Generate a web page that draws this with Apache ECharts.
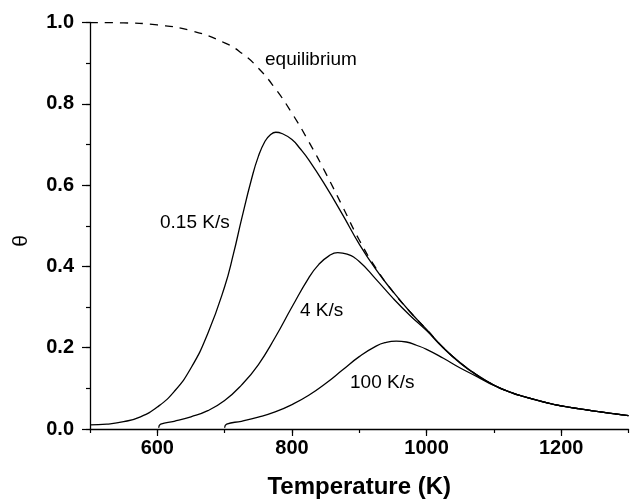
<!DOCTYPE html>
<html>
<head>
<meta charset="utf-8">
<script src="https://cdn.jsdelivr.net/npm/echarts@6/dist/echarts.min.js"></script>
<style>
  html, body { margin: 0; padding: 0; background: #fff; }
  #chart { width: 631px; height: 501px; }
</style>
</head>
<body>
<div id="chart"></div>
<script>
// Coverage theta versus temperature: equilibrium and three heating rates
const xTickLabels = [600, 800, 1000, 1200];
const yTickLabels = [0, 0.2, 0.4, 0.6, 0.8, 1.0];

// equilibrium coverage (dashed)
const eqT = [500, 550, 600, 650, 700, 725, 750, 775, 800, 825, 850, 875, 900, 925, 950, 975, 1000, 1025, 1050, 1075, 1100, 1125, 1150, 1175, 1200, 1250, 1300];
const eqTheta = [1.000, 0.999, 0.994, 0.980, 0.950, 0.925, 0.888, 0.838, 0.777, 0.707, 0.630, 0.548, 0.465, 0.395, 0.338, 0.289, 0.245, 0.200, 0.163, 0.133, 0.108, 0.090, 0.077, 0.066, 0.057, 0.044, 0.033];

// 0.15 K/s
const slowT = [500, 525, 550, 575, 600, 625, 650, 675, 700, 713, 725, 740, 750, 760, 768, 776, 785, 800, 812, 825, 850, 875, 900, 925, 950, 975, 1000, 1025, 1050, 1075, 1100, 1125, 1150, 1175, 1200, 1250, 1300];
const slowTheta = [0.010, 0.012, 0.018, 0.030, 0.054, 0.092, 0.150, 0.235, 0.350, 0.430, 0.515, 0.615, 0.670, 0.708, 0.724, 0.730, 0.727, 0.712, 0.690, 0.662, 0.598, 0.528, 0.455, 0.392, 0.338, 0.289, 0.245, 0.200, 0.163, 0.133, 0.108, 0.090, 0.077, 0.066, 0.057, 0.044, 0.033];

// 4 K/s
const midT = [602, 605, 625, 650, 675, 700, 725, 750, 775, 800, 825, 840, 855, 868, 882, 900, 925, 950, 975, 1000, 1025, 1050, 1075, 1100, 1125, 1150, 1175, 1200, 1250, 1300];
const midTheta = [0.003, 0.012, 0.019, 0.030, 0.045, 0.070, 0.108, 0.158, 0.225, 0.300, 0.372, 0.405, 0.426, 0.434, 0.430, 0.412, 0.368, 0.322, 0.280, 0.242, 0.199, 0.162, 0.132, 0.108, 0.090, 0.077, 0.066, 0.057, 0.044, 0.033];

// 100 K/s
const fastT = [700, 703, 725, 750, 775, 800, 825, 850, 875, 900, 925, 940, 955, 970, 985, 1000, 1025, 1050, 1075, 1100, 1125, 1150, 1175, 1200, 1250, 1300];
const fastTheta = [0.003, 0.012, 0.019, 0.029, 0.042, 0.060, 0.083, 0.112, 0.145, 0.178, 0.204, 0.213, 0.216, 0.214, 0.206, 0.196, 0.174, 0.150, 0.129, 0.107, 0.090, 0.077, 0.066, 0.057, 0.044, 0.033];

const pairs = (xs, ys) => xs.map((x, i) => [x, ys[i]]);

const FONT = '"Liberation Sans", Arial, Helvetica, sans-serif';
const black = '#000';

function curve(name, xs, ys, dashed) {
  return {
    name: name,
    type: 'line',
    data: pairs(xs, ys),
    smooth: 0.5,
    showSymbol: false,
    symbol: 'none',
    animation: false,
    lineStyle: { color: black, width: 1.3, type: dashed ? [8, 7] : 'solid' },
    z: 3
  };
}

const chart = echarts.init(document.getElementById('chart'), null, { renderer: 'canvas' });

chart.setOption({
  backgroundColor: '#fff',
  animation: false,
  grid: { left: 90, right: 2.5, top: 22.5, bottom: 72, containLabel: false, outerBoundsMode: 'none' },
  xAxis: [
    {
      type: 'value', min: 500, max: 1300, interval: 100, position: 'bottom',
      axisLine: { show: true, lineStyle: { color: black, width: 1.3 } },
      axisTick: { show: true, inside: false, length: 4, lineStyle: { color: black, width: 1.2 } },
      axisLabel: {
        customValues: xTickLabels, margin: 9,
        formatter: v => String(v),
        color: black, fontFamily: FONT, fontSize: 20, fontWeight: 'bold'
      },
      splitLine: { show: false },
      name: 'Temperature (K)', nameLocation: 'middle', nameGap: 46,
      nameTextStyle: { color: black, fontFamily: FONT, fontSize: 24, fontWeight: 'bold' }
    },
    {
      type: 'value', min: 500, max: 1300, interval: 100, position: 'bottom', offset: 0,
      axisLine: { show: false },
      axisTick: { show: true, inside: false, length: 7, customValues: xTickLabels, lineStyle: { color: black, width: 1.2 } },
      axisLabel: { show: false },
      splitLine: { show: false }
    }
  ],
  yAxis: [
    {
      type: 'value', min: 0, max: 1, interval: 0.1, position: 'left',
      axisLine: { show: true, lineStyle: { color: black, width: 1.3 } },
      axisTick: { show: true, inside: false, length: 4, lineStyle: { color: black, width: 1.2 } },
      axisLabel: {
        customValues: yTickLabels, margin: 16,
        formatter: v => v.toFixed(1),
        color: black, fontFamily: FONT, fontSize: 20, fontWeight: 'bold'
      },
      splitLine: { show: false }
    },
    {
      type: 'value', min: 0, max: 1, interval: 0.1, position: 'left', offset: 0,
      axisLine: { show: false },
      axisTick: { show: true, inside: false, length: 8, customValues: yTickLabels, lineStyle: { color: black, width: 1.2 } },
      axisLabel: { show: false },
      splitLine: { show: false }
    }
  ],
  series: [
    curve('equilibrium', eqT, eqTheta, true),
    curve('0.15 K/s', slowT, slowTheta, false),
    curve('4 K/s', midT, midTheta, false),
    curve('100 K/s', fastT, fastTheta, false)
  ],
  graphic: [
    { type: 'text', x: 21, y: 241, rotation: Math.PI / 2,
      style: { text: 'θ', font: '21px ' + FONT, fill: black, align: 'center', verticalAlign: 'middle', textAlign: 'center', textVerticalAlign: 'middle' } },
    { type: 'text', left: 265, top: 50, style: { text: 'equilibrium', font: '19px ' + FONT, fill: black } },
    { type: 'text', left: 160, top: 213, style: { text: '0.15 K/s', font: '19px ' + FONT, fill: black } },
    { type: 'text', left: 300, top: 301, style: { text: '4 K/s', font: '19px ' + FONT, fill: black } },
    { type: 'text', left: 350, top: 373, style: { text: '100 K/s', font: '19px ' + FONT, fill: black } }
  ]
});
</script>
</body>
</html>
